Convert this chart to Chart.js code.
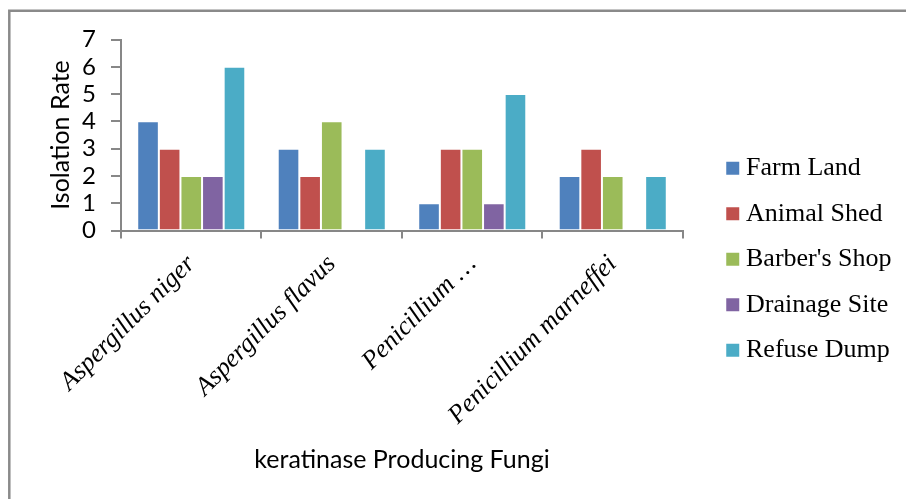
<!DOCTYPE html>
<html>
<head>
<meta charset="utf-8">
<script src="https://cdn.jsdelivr.net/npm/chart.js@4.4.1/dist/chart.umd.min.js"></script>
<style>
  html, body { margin: 0; padding: 0; background: #ffffff; overflow: hidden; }
  #wrap { position: relative; width: 906px; height: 499px; }
</style>
</head>
<body>
<div id="wrap"><canvas id="chart" width="906" height="499"></canvas></div>
<script>
// Isolation rate of keratinase producing fungi by sampling site
const categories = ['Aspergillus niger', 'Aspergillus flavus', 'Penicillium …', 'Penicillium marneffei'];
const farmLand     = [4, 3, 1, 2];
const animalShed   = [3, 2, 3, 3];
const barbersShop  = [2, 4, 3, 2];
const drainageSite = [2, 0, 1, 0];
const refuseDump   = [6, 3, 5, 2];
const seriesNames  = ['Farm Land', 'Animal Shed', "Barber's Shop", 'Drainage Site', 'Refuse Dump'];
const yTickValues  = [0, 1, 2, 3, 4, 5, 6, 7];

const palette = ['#4F81BD', '#C0504D', '#9BBB59', '#8064A2', '#4BACC6'];
const axisGrey = '#878787';
const sansFont = 'Lato, Carlito, sans-serif';
const serifFont = '"Liberation Serif", "Times New Roman", serif';

// Thin grey frame along the left and top of the chart area
const framePlugin = {
  id: 'frame',
  beforeDraw(chart) {
    const ctx = chart.ctx;
    ctx.save();
    ctx.strokeStyle = '#8a8a8a';
    ctx.lineWidth = 2.5;
    ctx.beginPath();
    ctx.moveTo(9.3, chart.height + 5);
    ctx.lineTo(9.3, 10.8);
    ctx.lineTo(chart.width + 5, 10.8);
    ctx.stroke();
    ctx.restore();
  }
};

const seriesValues = [farmLand, animalShed, barbersShop, drainageSite, refuseDump];
const datasets = seriesValues.map((vals, i) => ({
  label: seriesNames[i],
  data: vals,
  backgroundColor: palette[i],
  borderColor: 'rgba(255,255,255,0.35)',
  borderWidth: 1,
  categoryPercentage: 0.769,
  barPercentage: 1.0
}));

// Legend swatches: a near-zero box stroked thick in its own colour,
// which gives a 13px square that sits close to its label.
const defaultLabels = Chart.defaults.plugins.legend.labels.generateLabels;
function legendLabels(chart) {
  return defaultLabels(chart).map(item => Object.assign(item, {
    strokeStyle: item.fillStyle,
    lineWidth: 12.5,
    lineJoin: 'miter'
  }));
}

new Chart(document.getElementById('chart'), {
  type: 'bar',
  data: { labels: categories, datasets },
  plugins: [framePlugin],
  options: {
    responsive: false,
    animation: false,
    layout: { padding: { top: 39.5, bottom: 20, left: 0, right: 4.5 } },
    plugins: {
      tooltip: { enabled: false },
      legend: {
        position: 'right',
        align: 'center',
        maxWidth: 240,
        labels: {
          color: '#000000',
          font: { family: serifFont, size: 26 },
          boxWidth: 0.5,
          boxHeight: 0.5,
          padding: 19.5,
          generateLabels: legendLabels
        }
      }
    },
    scales: {
      x: {
        grid: {
          display: true,
          drawOnChartArea: false,
          drawTicks: true,
          tickLength: 8,
          color: axisGrey,
          lineWidth: 2
        },
        border: { display: true, color: axisGrey, width: 2 },
        ticks: {
          color: '#000000',
          autoSkip: false,
          minRotation: 45,
          maxRotation: 45,
          padding: 10.5,
          font: { family: serifFont, size: 26, style: 'italic' }
        },
        title: {
          display: true,
          text: 'keratinase Producing Fungi',
          color: '#000000',
          font: { family: sansFont, size: 25 },
          padding: { top: 0, bottom: 4 }
        },
        afterFit(scale) { scale.height = 248.5; }
      },
      y: {
        min: 0,
        max: 7,
        afterBuildTicks(scale) { scale.ticks = yTickValues.map(v => ({ value: v })); },
        grid: {
          display: true,
          drawOnChartArea: false,
          drawTicks: true,
          tickLength: 10,
          color: axisGrey,
          lineWidth: 2
        },
        border: { display: true, color: axisGrey, width: 2 },
        ticks: {
          color: '#000000',
          autoSkip: false,
          padding: 15,
          font: { family: sansFont, size: 24 }
        },
        title: {
          display: true,
          text: 'Isolation Rate',
          color: '#000000',
          font: { family: sansFont, size: 25 },
          padding: { top: 45.5, bottom: 0 }
        },
        afterFit(scale) { scale.width = 121; }
      },
      // empty spacer between the plot and the legend
      gap: {
        type: 'linear',
        position: 'right',
        display: true,
        grid: { display: false },
        border: { display: false },
        ticks: { display: false },
        afterFit(scale) { scale.width = 30; }
      }
    }
  }
});
</script>
</body>
</html>
